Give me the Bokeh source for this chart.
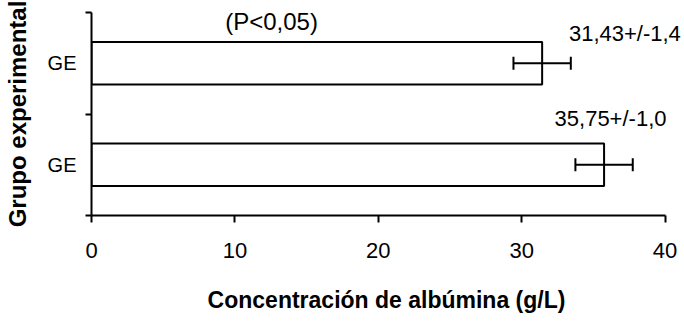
from bokeh.plotting import figure
from bokeh.models import Range1d, FixedTicker, Whisker, ColumnDataSource, Label, TeeHead
from bokeh.embed import file_html
from bokeh.resources import INLINE

# Data (bottom group first)
groups = ["GE", "GE"]
values = [35.75, 31.43]
errors = [2.0, 2.0]
value_labels = ["35,75+/-1,0", "31,43+/-1,4"]
x_ticks = [0, 10, 20, 30, 40]
note_text = "(P<0,05)"

ypos = [i + 0.5 for i in range(len(groups))]
src = ColumnDataSource(dict(
    y=ypos, v=values,
    lo=[v - e for v, e in zip(values, errors)],
    hi=[v + e for v, e in zip(values, errors)],
))

FONT = "Liberation Sans"

# the plotting area runs slightly past 40 so that the value labels are not clipped;
# the axis itself is bounded to 0..40
p = figure(width=684, height=322, x_range=Range1d(0, 41.15), y_range=Range1d(0, len(groups)),
           output_backend="svg", toolbar_location=None, title=None,
           min_border_left=89, min_border_right=3, min_border_top=12, min_border_bottom=107)
p.outline_line_color = None
p.grid.visible = False
p.background_fill_color = "white"
p.border_fill_color = "white"

p.hbar(y="y", right="v", left=0, height=0.42, source=src,
       fill_color="white", line_color="black", line_width=2)

wh = Whisker(base="y", lower="lo", upper="hi", dimension="width", source=src,
             line_color="black", line_width=2, level="annotation",
             lower_head=TeeHead(size=13, line_color="black", line_width=2),
             upper_head=TeeHead(size=13, line_color="black", line_width=2))
p.add_layout(wh)

# x axis
xa = p.xaxis[0]
xa.ticker = FixedTicker(ticks=x_ticks)
xa.bounds = (x_ticks[0], x_ticks[-1])
xa.axis_label = "Concentración de albúmina (g/L)"
xa.axis_label_text_font = FONT
xa.axis_label_text_font_style = "bold"
xa.axis_label_text_font_size = "23px"
xa.axis_label_text_color = "black"
xa.axis_label_standoff = 26
xa.major_label_text_font = FONT
xa.major_label_text_font_size = "22px"
xa.major_label_text_color = "black"
xa.major_label_standoff = 20
xa.major_tick_out = 7
xa.major_tick_in = 0
xa.minor_tick_line_color = None
xa.axis_line_width = 2
xa.major_tick_line_width = 2
xa.axis_line_color = "black"
xa.major_tick_line_color = "black"

# y axis
ya = p.yaxis[0]
ya.ticker = FixedTicker(ticks=ypos, minor_ticks=list(range(len(groups) + 1)))
ya.major_label_overrides = {y: g for y, g in zip(ypos, groups)}
ya.axis_label = "Grupo experimental"
ya.axis_label_text_font = FONT
ya.axis_label_text_font_style = "bold"
ya.axis_label_text_font_size = "24px"
ya.axis_label_text_color = "black"
ya.axis_label_standoff = 14
ya.major_label_text_font = FONT
ya.major_label_text_font_size = "20px"
ya.major_label_text_color = "black"
ya.major_label_standoff = 9
ya.major_tick_line_color = None
ya.major_tick_out = 0
ya.major_tick_in = 0
ya.minor_tick_out = 6
ya.minor_tick_in = 0
ya.minor_tick_line_color = "black"
ya.minor_tick_line_width = 2
ya.axis_line_width = 2
ya.axis_line_color = "black"

# value annotations
label_pos = [(36.2, 0.96), (37.2, 1.79)]
for (lx, ly), t in zip(label_pos, value_labels):
    p.add_layout(Label(x=lx, y=ly, text=t, text_align="center", text_baseline="middle",
                       text_font=FONT, text_font_size="22px", text_color="black"))
p.add_layout(Label(x=12.56, y=1.91, text=note_text, text_align="center", text_baseline="middle",
                   text_font=FONT, text_font_size="24px", text_color="black"))

open("out.html", "w").write(file_html(p, INLINE))
